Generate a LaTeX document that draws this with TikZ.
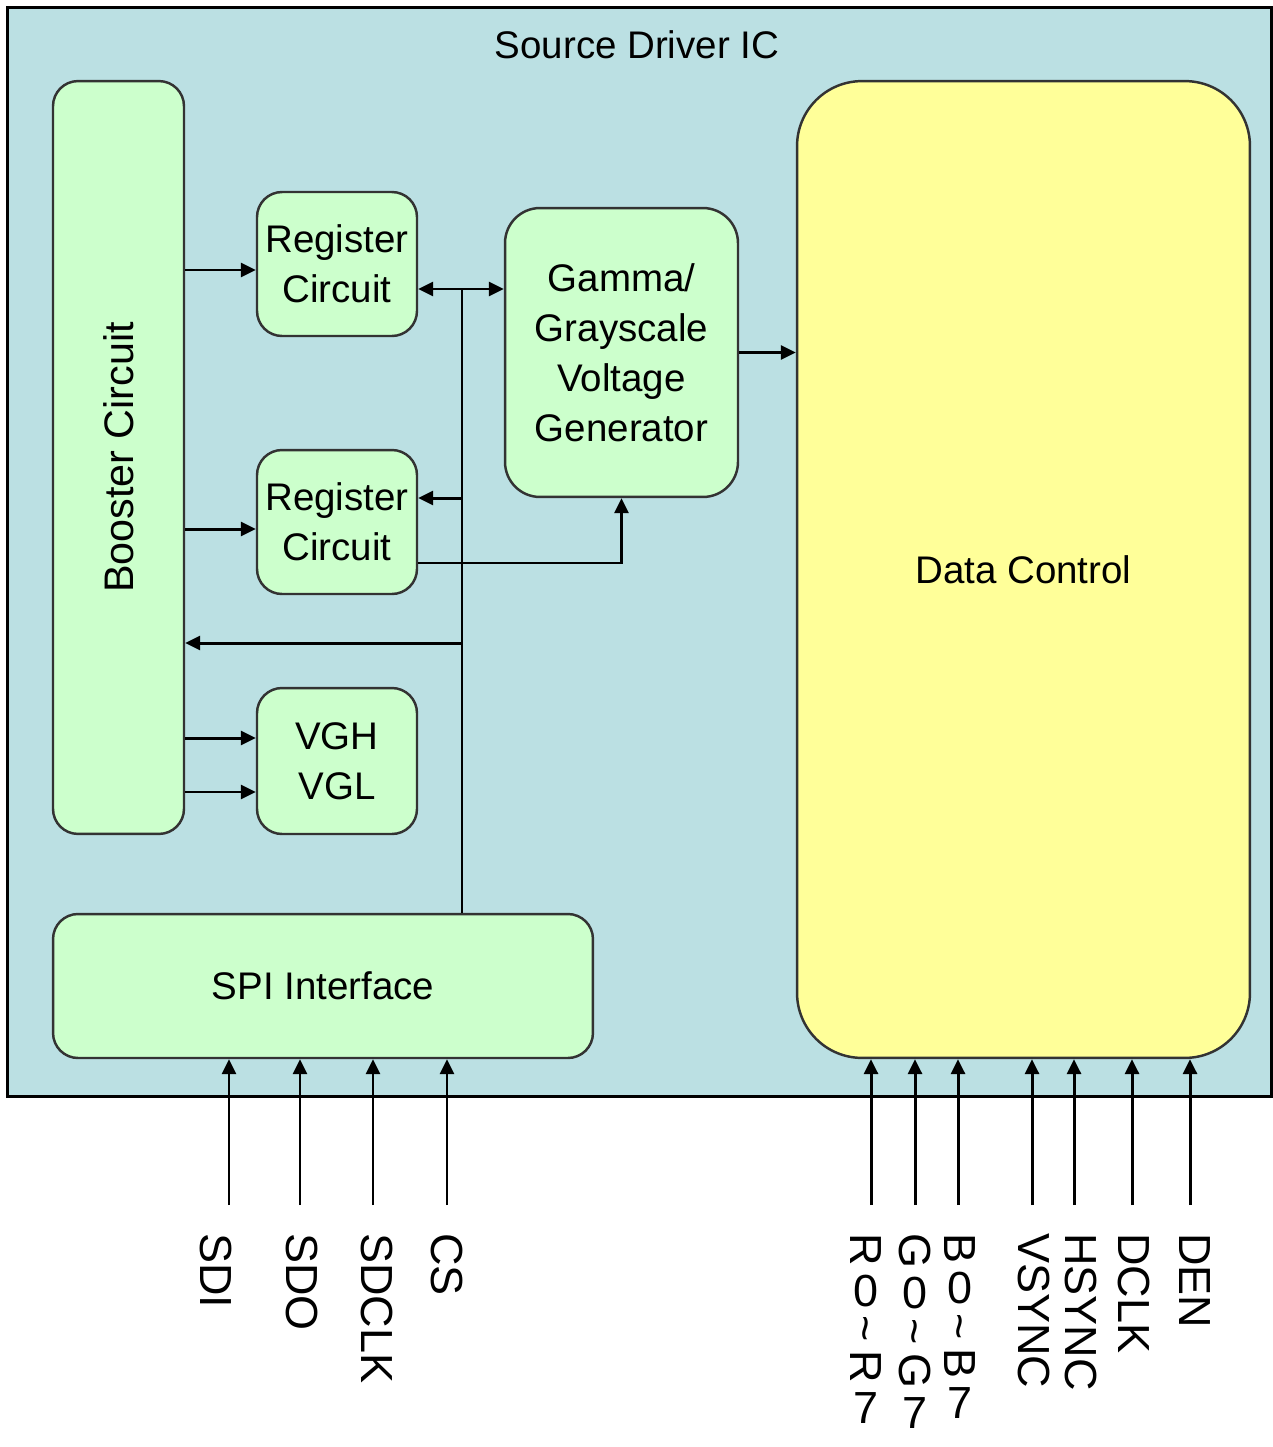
\documentclass[tikz,border=0pt]{standalone}
\usepackage{fontspec}
\setmainfont{Liberation Sans}
\usetikzlibrary{arrows.meta}

\definecolor{icblue}{HTML}{BBE0E3}
\definecolor{blockgreen}{HTML}{CCFFCC}
\definecolor{ctrlyellow}{HTML}{FFFF99}
\definecolor{blockline}{HTML}{333333}

\newcommand{\updigit}[1]{\rotatebox[origin=c]{90}{#1}}
\newcommand{\pinsep}{\hspace{0.2em}}

\begin{document}
\begin{tikzpicture}[x=0.02cm, y=-0.02cm, >={Triangle[length=0.3cm,width=0.28cm]}]
        \path [use as bounding box, fill=white] (0,0) rectangle (1273,1447);

        % chip outline
        \node (ic) [draw=black, fill=icblue, line width=1.7pt, inner sep=0, minimum width=25.3cm, minimum height=21.8cm] at (639.5,552) {};
        \node (title) [font=\fontsize{21.9}{28.45}\selectfont] at (637,45) {Source Driver IC};

        \begin{scope}[every node/.style={rectangle,rounded corners=0.5cm,draw=blockline,fill=blockgreen,line width=1.4pt,inner sep=2pt,align=center,font=\fontsize{21.9}{28.45}\selectfont}]
            \node (booster) [minimum width=2.62cm, minimum height=15.06cm] at (118.5,457.5) {\rotatebox{90}{\fontsize{23.5}{28}\selectfont Booster Circuit}};
            \node (reg1) [minimum width=3.2cm, minimum height=2.88cm] at (337,264) {Register\\Circuit};
            \node (reg2) [minimum width=3.2cm, minimum height=2.88cm] at (337,522) {Register\\Circuit};
            \node (vgh) [minimum width=3.2cm, minimum height=2.92cm] at (337,761) {VGH\\VGL};
            \node (gamma) [rounded corners=0.7cm, minimum width=4.66cm, minimum height=5.78cm] at (621.5,352.5) {Gamma/\\Grayscale\\Voltage\\Generator};
            \node (spi) [minimum width=10.8cm, minimum height=2.88cm] at (323,986) {SPI Interface};
            \node (data) [rounded corners=1.3cm, fill=ctrlyellow, minimum width=9.06cm, minimum height=19.54cm] at (1023.5,569.5) {Data Control};
        \end{scope}

        % internal bus
        \coordinate (bustop) at (462,289);
        \coordinate (tapreg) at (462,498);
        \coordinate (tapboost) at (462,643);
        \coordinate (reg1in) at ([yshift=-0.12cm]reg1.west);
        \coordinate (reg2in) at ([yshift=-0.14cm]reg2.west);
        \coordinate (vghin) at ([yshift=0.46cm]vgh.west);
        \coordinate (vglin) at ([yshift=-0.62cm]vgh.west);

        \begin{scope}[line width=1.7pt]
            \draw [->] (booster.east |- reg1in) -- (reg1in);
            \draw [->] (booster.east |- reg2in) -- (reg2in);
            \draw [->] (booster.east |- vghin) -- (vghin);
            \draw [->] (booster.east |- vglin) -- (vglin);
            \draw (spi.north -| bustop) -- (bustop);
            \draw [<->] (reg1.east |- bustop) -- (gamma.west |- bustop);
            \draw [->] (tapreg) -- (reg2.east |- tapreg);
            \draw [->] (tapboost) -- (booster.east |- tapboost);
            \draw [->] ([yshift=-0.82cm]reg2.east) -| (gamma.south);
            \draw [->] (gamma.east) -- (data.west |- gamma.east);
        \end{scope}

        % pins
        \coordinate (sdiin) at (229,1205);
        \coordinate (sdoin) at (300,1205);
        \coordinate (sdclkin) at (373,1205);
        \coordinate (csin) at (447,1205);
        \coordinate (rin) at (871,1205);
        \coordinate (gin) at (915,1205);
        \coordinate (bin) at (958,1205);
        \coordinate (vsyncin) at (1032,1205);
        \coordinate (hsyncin) at (1074,1205);
        \coordinate (dclkin) at (1132,1205);
        \coordinate (denin) at (1190,1205);

        \begin{scope}[line width=1.7pt]
            \draw [->] (sdiin) -- (sdiin |- spi.south);
            \draw [->] (sdoin) -- (sdoin |- spi.south);
            \draw [->] (sdclkin) -- (sdclkin |- spi.south);
            \draw [->] (csin) -- (csin |- spi.south);
            \draw [->] (rin) -- (rin |- data.south);
            \draw [->] (gin) -- (gin |- data.south);
            \draw [->] (bin) -- (bin |- data.south);
            \draw [->] (vsyncin) -- (vsyncin |- data.south);
            \draw [->] (hsyncin) -- (hsyncin |- data.south);
            \draw [->] (dclkin) -- (dclkin |- data.south);
            \draw [->] (denin) -- (denin |- data.south);
        \end{scope}

        \begin{scope}[every node/.style={rotate=-90,anchor=west,inner sep=0,font=\fontsize{25.6}{30}\selectfont}]
            \node (sdi) at (216,1233) {SDI};
            \node (sdo) at (302,1233) {SDO};
            \node (sdclk) at (377,1233) {SDCLK};
            \node (cs) at (447,1233) {CS};
            \node (rbus) at (866,1233) {R\pinsep\updigit{0}\pinsep\textasciitilde\pinsep R\pinsep\updigit{7}};
            \node (gbus) at (915,1233) {G\pinsep\updigit{0}\pinsep\textasciitilde\pinsep G\pinsep\updigit{7}};
            \node (bbus) at (960,1233) {B\pinsep\updigit{0}\pinsep\textasciitilde\pinsep B\pinsep\updigit{7}};
            \node (vsync) at (1034,1233) {VSYNC};
            \node (hsync) at (1081,1233) {HSYNC};
            \node (dclk) at (1134,1233) {DCLK};
            \node (den) at (1195,1233) {DEN};
        \end{scope}
    \end{tikzpicture}
\end{document}
